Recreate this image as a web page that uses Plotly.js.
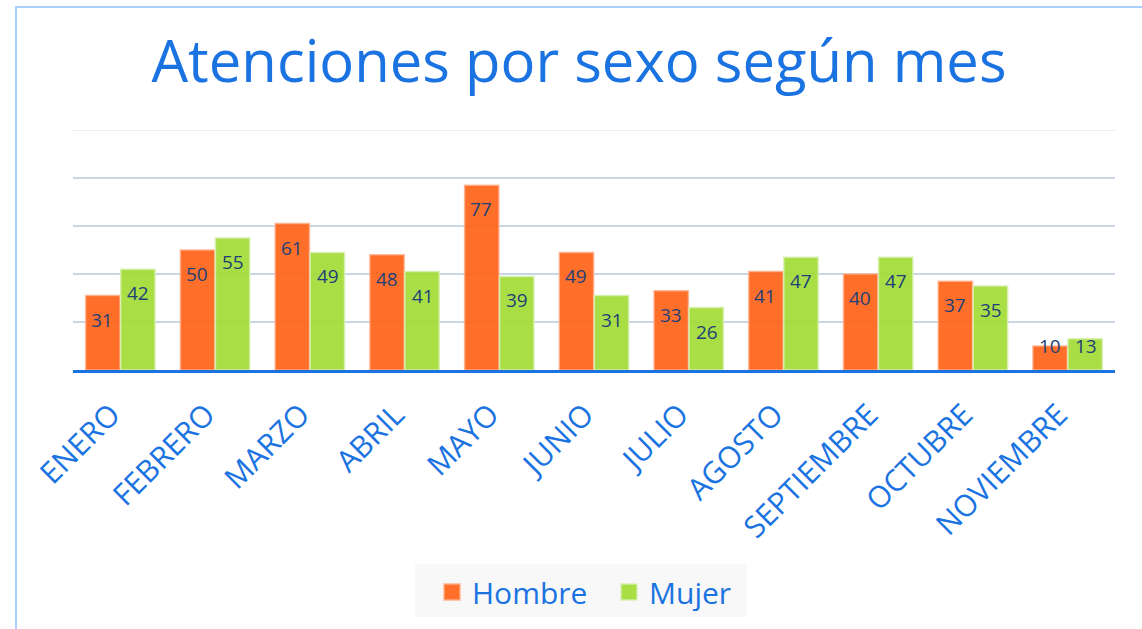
<!DOCTYPE html>
<html>
<head>
<meta charset="utf-8">
<script src="https://cdn.plot.ly/plotly-3.0.1.min.js"></script>
<style>
  html, body { margin: 0; padding: 0; background: #ffffff; }
  #wrap { position: relative; width: 1142px; height: 629px; }
  #chart { position: absolute; left: 0; top: 0; width: 1142px; height: 629px; }
  #frame { position: absolute; left: 15px; top: 6px; width: 1140px; height: 640px;
           border: 2px solid #a9d1ff; pointer-events: none; box-sizing: border-box; }
</style>
</head>
<body>
<div id="wrap">
  <div id="chart"></div>
  <div id="frame"></div>
</div>
<script>
const months = ["ENERO","FEBRERO","MARZO","ABRIL","MAYO","JUNIO","JULIO","AGOSTO","SEPTIEMBRE","OCTUBRE","NOVIEMBRE"];
const hombre = [31,50,61,48,77,49,33,41,40,37,10];
const mujer  = [42,55,49,41,39,31,26,47,47,35,13];
const seriesNames = ["Hombre","Mujer"];

const blue = "#1a73e0";
const labelColor = "#1e3f78";
const orange = "rgba(255,100,25,0.93)";
const green = "rgba(162,219,55,0.93)";

const traces = [
  {
    type: "bar", name: seriesNames[0], x: months, y: hombre, showlegend: false,
    marker: { color: orange, line: { color: "rgba(255,175,140,0.8)", width: 1.5 } }
  },
  {
    type: "bar", name: seriesNames[1], x: months, y: mujer, showlegend: false,
    marker: { color: green, line: { color: "rgba(215,240,175,0.9)", width: 1.5 } }
  },
  {
    type: "scatter", mode: "markers", name: seriesNames[0], x: [null], y: [null], showlegend: true,
    legend: "legend",
    marker: { symbol: "square", size: 17, color: orange, line: { color: "rgba(255,175,140,0.9)", width: 1.5 } }
  },
  {
    type: "scatter", mode: "markers", name: seriesNames[1], x: [null], y: [null], showlegend: true,
    legend: "legend2",
    marker: { symbol: "square", size: 17, color: green, line: { color: "rgba(215,240,175,0.9)", width: 1.5 } }
  }
];

const annotations = [];
months.forEach((m, i) => {
  annotations.push({ x: m, y: Math.max(hombre[i] - 10, 10), xref: "x", yref: "y",
    text: String(hombre[i]), showarrow: false, xshift: -18,
    font: { family: "Open Sans", size: 19, color: labelColor } });
  annotations.push({ x: m, y: Math.max(mujer[i] - 10, 10), xref: "x", yref: "y",
    text: String(mujer[i]), showarrow: false, xshift: 18,
    font: { family: "Open Sans", size: 19, color: labelColor } });
});

const legendFont = { family: "Open Sans", size: 30, color: blue };

const layout = {
  width: 1142, height: 629,
  paper_bgcolor: "rgba(0,0,0,0)", plot_bgcolor: "rgba(0,0,0,0)",
  margin: { l: 73, r: 27, t: 130, b: 258 },
  title: { text: "Atenciones por sexo según mes", x: 0.507, xanchor: "center", y: 0.902, yanchor: "middle",
           font: { family: "Open Sans", size: 58, color: blue } },
  barmode: "group", bargap: 0.26, bargroupgap: 0.02,
  xaxis: {
    type: "category", tickangle: -45, showline: true, linecolor: blue, linewidth: 3,
    ticks: "", showgrid: false, range: [-0.5, 10.5],
    ticklabelstandoff: 12, ticklabelshift: -9,
    tickfont: { family: "Open Sans", size: 30, color: blue }
  },
  yaxis: {
    range: [0, 100], dtick: 20, showticklabels: false, showgrid: true,
    gridcolor: "#c9d6e6", gridwidth: 1.5, zeroline: false, fixedrange: true
  },
  shapes: [
    { type: "line", xref: "paper", yref: "y", x0: 0, x1: 1, y0: 100, y1: 100,
      line: { color: "#e3e6ea", width: 1.5 }, layer: "below" },
    { type: "rect", xref: "paper", yref: "paper",
      x0: (415 - 73) / 1042, x1: (747 - 73) / 1042,
      y0: -(619 - 371) / 241, y1: -(566 - 371) / 241,
      fillcolor: "#f8f8f8", line: { width: 0 }, layer: "below" }
  ],
  showlegend: true,
  legend: {
    orientation: "h", x: (432 - 73) / 1042, xanchor: "left", y: -(592 - 371) / 241, yanchor: "middle",
    bgcolor: "rgba(0,0,0,0)", font: legendFont, itemwidth: 30, borderwidth: 0
  },
  legend2: {
    orientation: "h", x: (609 - 73) / 1042, xanchor: "left", y: -(592 - 371) / 241, yanchor: "middle",
    bgcolor: "rgba(0,0,0,0)", font: legendFont, itemwidth: 30, borderwidth: 0
  },
  annotations: annotations
};

Plotly.newPlot("chart", traces, layout, { displayModeBar: false, staticPlot: true });
</script>
</body>
</html>
